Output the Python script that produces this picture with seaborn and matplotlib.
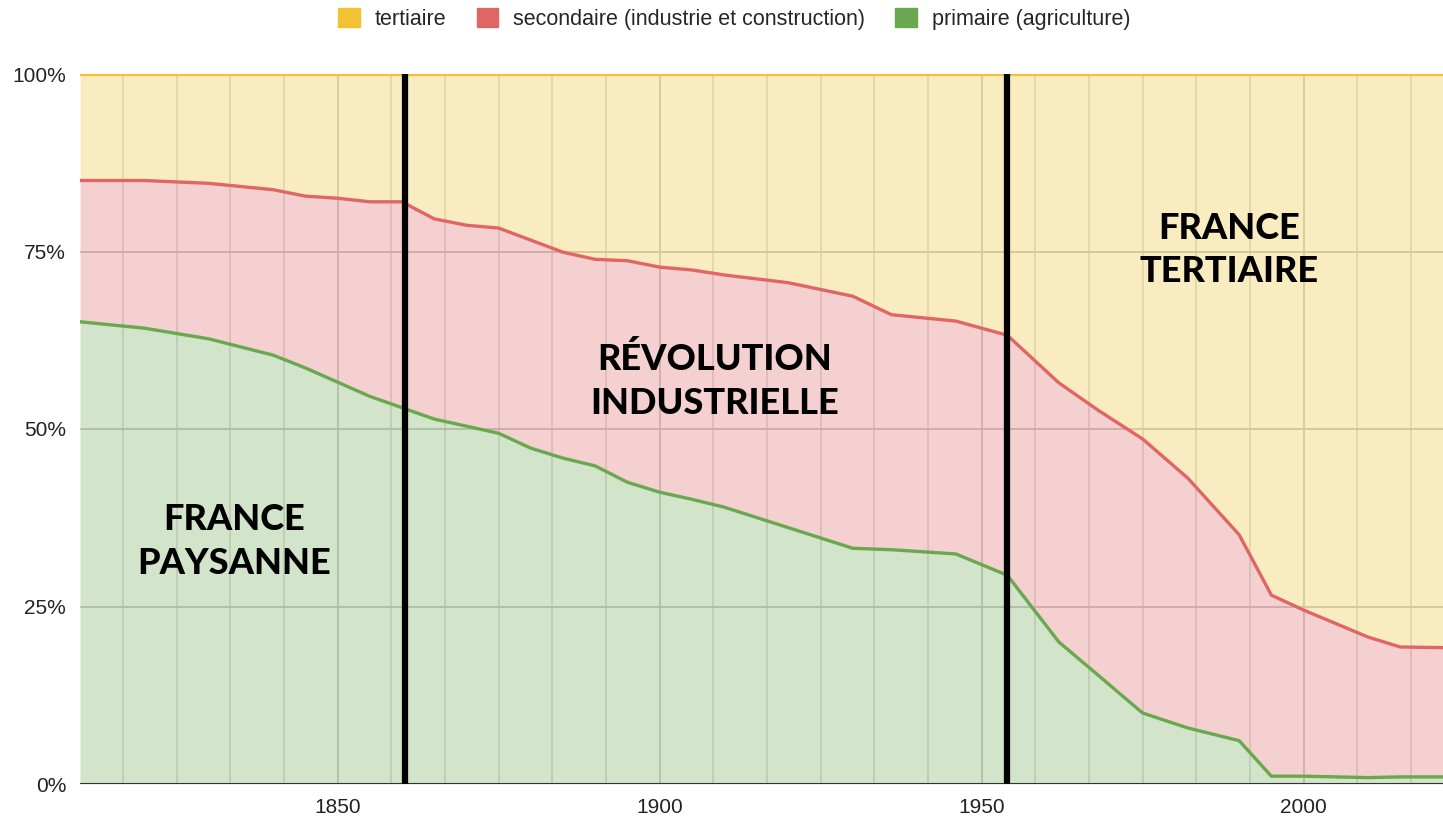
import numpy as np
import pandas as pd
import matplotlib
matplotlib.use("Agg")
import matplotlib.pyplot as plt
from matplotlib.patches import Patch
import seaborn as sns

# Répartition de la population active par secteur (en %)
annees = [1810, 1820, 1830, 1840, 1845, 1850, 1855, 1860, 1865, 1870, 1875, 1880,
          1885, 1890, 1895, 1900, 1905, 1910, 1920, 1930, 1936, 1946, 1954, 1962,
          1968, 1975, 1982, 1990, 1995, 2000, 2010, 2015, 2022]
primaire = [65.1, 64.2, 62.7, 60.4, 58.6, 56.6, 54.6, 53.0, 51.4, 50.4, 49.4, 47.3,
            45.9, 44.8, 42.5, 41.1, 40.1, 39.0, 36.1, 33.2, 33.0, 32.4, 29.4, 20.0,
            15.4, 10.0, 7.9, 6.1, 1.1, 1.1, 0.9, 1.0, 1.0]
secondaire = [19.9, 20.8, 21.9, 23.3, 24.2, 25.9, 27.4, 29.0, 28.2, 28.3, 28.9, 29.3,
              29.0, 29.1, 31.2, 31.7, 32.3, 32.7, 34.5, 35.5, 33.1, 32.8, 33.8, 36.5,
              37.3, 38.6, 35.2, 29.0, 25.5, 23.4, 19.8, 18.3, 18.2]
tertiaire = [15.0, 15.0, 15.4, 16.3, 17.2, 17.5, 18.0, 18.0, 20.4, 21.3, 21.7, 23.4,
             25.1, 26.1, 26.3, 27.2, 27.6, 28.3, 29.4, 31.3, 33.9, 34.8, 36.8, 43.5,
             47.3, 51.4, 56.9, 64.9, 73.4, 75.5, 79.3, 80.7, 80.8]

secteurs = ["tertiaire", "secondaire (industrie et construction)", "primaire (agriculture)"]
couleurs = ["#f1c232", "#e06666", "#6aa84f"]

# Ruptures entre les grandes périodes
ruptures = [1860.5, 1954]
periodes = ["FRANCE\nPAYSANNE", "RÉVOLUTION\nINDUSTRIELLE", "FRANCE\nTERTIAIRE"]
periodes_x = [1834.0, 1908.5, 1988.5]
periodes_y = [34.1, 56.8, 75.2]

x_min, x_max = 1810, 2021.65

df = pd.DataFrame({"annee": annees, "primaire": primaire,
                   "secondaire": secondaire, "tertiaire": tertiaire})
df["haut_primaire"] = df["primaire"]
df["haut_secondaire"] = df["primaire"] + df["secondaire"]
df["haut_tertiaire"] = df["haut_secondaire"] + df["tertiaire"]

sns.set_theme(style="white")
plt.rcParams["font.family"] = ["Liberation Sans", "DejaVu Sans"]

fig = plt.figure(figsize=(14.43, 8.16), dpi=100)
ax = fig.add_axes([80 / 1443, 32 / 816, 1 - 80 / 1443, 710 / 816])

# Quadrillage
for x in np.arange(1800, 2030, 50 / 6):
    major = abs((x / 50) - round(x / 50)) < 1e-6
    ax.axvline(x, color="#c8c8c8" if major else "#dcdcdc", lw=1.2, zorder=0)
for y in [25, 50, 75]:
    ax.axhline(y, color="#c8c8c8", lw=1.3, zorder=0)

# Aires empilées
ax.fill_between(df["annee"], 0, df["haut_primaire"], color=couleurs[2], alpha=0.3, lw=0, zorder=1)
ax.fill_between(df["annee"], df["haut_primaire"], df["haut_secondaire"], color=couleurs[1], alpha=0.3, lw=0, zorder=1)
ax.fill_between(df["annee"], df["haut_secondaire"], df["haut_tertiaire"], color=couleurs[0], alpha=0.3, lw=0, zorder=1)

sns.lineplot(data=df, x="annee", y="haut_tertiaire", color=couleurs[0], lw=2.4, ax=ax, zorder=3)
sns.lineplot(data=df, x="annee", y="haut_secondaire", color=couleurs[1], lw=2.4, ax=ax, zorder=3)
sns.lineplot(data=df, x="annee", y="haut_primaire", color=couleurs[2], lw=2.4, ax=ax, zorder=3)

ax.axhline(0, color="#333333", lw=1.5, zorder=4)

for r in ruptures:
    ax.axvline(r, color="black", lw=4.5, zorder=5)

for txt, px, py in zip(periodes, periodes_x, periodes_y):
    ax.text(px, py, txt, ha="center", va="center", fontsize=26, fontweight="black",
            family=["Lato", "DejaVu Sans"], color="black", linespacing=1.4, zorder=6)

ax.set_xlim(x_min, x_max)
ax.set_ylim(0, 100)
ax.set_xticks([1850, 1900, 1950, 2000])
ax.set_xticklabels(["1850", "1900", "1950", "2000"])
ax.set_yticks([0, 25, 50, 75, 100])
ax.set_yticklabels(["0%", "25%", "50%", "75%", "100%"])
ax.tick_params(axis="both", labelsize=15, colors="#222222", length=0)
ax.tick_params(axis="x", pad=10)
ax.tick_params(axis="y", pad=10)
ax.set_xlabel("")
ax.set_ylabel("")
for s in ax.spines.values():
    s.set_visible(False)

handles = [Patch(facecolor=c, edgecolor=c) for c in couleurs]
fig.legend(handles, secteurs, loc="center", bbox_to_anchor=(0.509, 0.977), ncol=3,
           frameon=False, fontsize=15.5, handlelength=1.0, handleheight=1.0,
           handletextpad=0.7, columnspacing=1.4)

fig.savefig("out.png", dpi=100)
